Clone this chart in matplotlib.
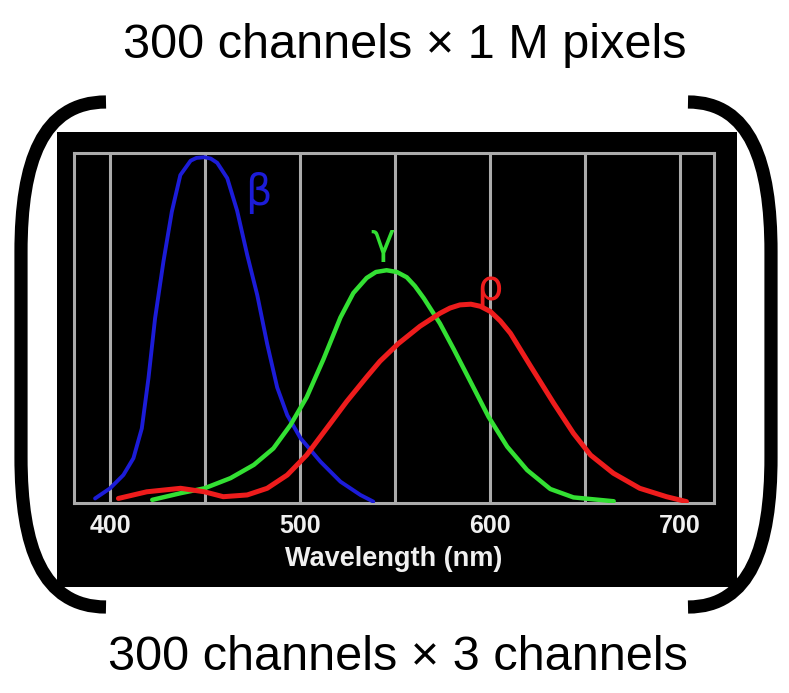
import numpy as np
import matplotlib.pyplot as plt
from matplotlib.patches import Rectangle, PathPatch
from matplotlib.path import Path

# cone sensitivity curves (wavelength nm, relative response)
blue_nm = [392.1, 400, 407, 412.3, 416.7, 420.2, 423.7, 428.1, 432.5, 437, 442.4, 445.5, 449.7,
           453, 456.4, 461.7, 466.9, 472.2, 477.5, 482.7, 488, 493.3, 500.3, 510.8, 521.3, 531.8, 538.6]
blue_val = [0.013, 0.042, 0.08, 0.128, 0.213, 0.356, 0.528, 0.69, 0.832, 0.937, 0.978, 0.986, 0.988,
            0.984, 0.972, 0.928, 0.835, 0.709, 0.594, 0.455, 0.33, 0.251, 0.185, 0.118, 0.061, 0.023, 0.004]

green_nm = [422.2, 437.1, 449.7, 463.4, 475.7, 486, 495, 503.5, 512.3, 521.3, 528.1, 535.1,
            540, 545.6, 551, 556.2, 560.5, 565.2, 573.7, 580.9, 588.5, 599.3, 609.1, 619.6, 631.8, 644, 665.2]
green_val = [0.009, 0.028, 0.042, 0.071, 0.109, 0.156, 0.223, 0.302, 0.41, 0.53, 0.6, 0.643,
             0.66, 0.665, 0.66, 0.645, 0.62, 0.585, 0.513, 0.44, 0.36, 0.246, 0.161, 0.094, 0.04, 0.016, 0.005]

red_nm = [404.4, 419.3, 437.1, 449.7, 459.6, 472.2, 482.7, 493.3, 503.5, 514, 524.6, 535.1,
          542.1, 551.7, 563.2, 573.7, 579, 584.2, 590, 595, 600.3, 605.5, 610.8, 621.3, 633.6, 644,
          653, 665, 678.9, 693, 703.5]
red_val = [0.013, 0.032, 0.042, 0.032, 0.018, 0.023, 0.042, 0.08, 0.137, 0.213, 0.29, 0.36,
           0.405, 0.455, 0.505, 0.542, 0.557, 0.566, 0.568, 0.562, 0.547, 0.52, 0.485, 0.392, 0.285,
           0.199, 0.137, 0.085, 0.042, 0.018, 0.004]

major_ticks = [400, 500, 600, 700]
minor_ticks = [450, 550, 650]
labels = ['β', 'γ', 'ρ']
label_pos = [(478, 0.885), (543.7, 0.75), (600, 0.615)]
colors = ['#1c1cd8', '#33e033', '#ee1c1c']

W, H = 789, 693
fig = plt.figure(figsize=(W / 100, H / 100), dpi=100)
fig.patch.set_facecolor('white')


def fx(x):
    return x / W


def fy(y):
    return 1 - y / H


# black panel behind the plot
fig.add_artist(Rectangle((fx(57), fy(587)), fx(737) - fx(57), fy(132) - fy(587),
                         transform=fig.transFigure, facecolor='black', edgecolor='none', zorder=0))

ax = fig.add_axes([fx(74), fy(503), fx(714) - fx(74), fy(153) - fy(503)])
ax.set_facecolor('black')
ax.set_xlim(381, 718)
ax.set_ylim(0, 1)

ax.set_xticks(major_ticks)
ax.set_xticks(minor_ticks, minor=True)
ax.set_yticks([])
ax.grid(which='both', axis='x', color='#ababab', lw=2.2)
ax.set_axisbelow(True)
for s in ax.spines.values():
    s.set_color('#ababab')
    s.set_linewidth(2.2)
ax.tick_params(axis='x', which='both', length=0, pad=8, colors='#f0f0f0')
for t in ax.get_xticklabels():
    t.set_fontfamily('Liberation Sans')
    t.set_fontweight('bold')
    t.set_fontsize(18)
ax.set_xlabel('Wavelength (nm)', family='Liberation Sans', fontweight='bold',
              fontsize=19.5, color='#f0f0f0', labelpad=6)

kw = dict(solid_capstyle='round', solid_joinstyle='round')
ax.plot(blue_nm, blue_val, color=colors[0], lw=2.8, zorder=3, **kw)
ax.plot(green_nm, green_val, color=colors[1], lw=3.2, zorder=4, **kw)
ax.plot(red_nm, red_val, color=colors[2], lw=3.6, zorder=5, **kw)

for lab, (x, y), c in zip(labels, label_pos, colors):
    ax.text(x, y, lab, color=c, fontsize=30, ha='center', va='center', zorder=6)

# brackets
def bracket(tip, vert, ytop, ybot):
    verts = [(tip, ytop), (vert + (tip - vert) * 0.25, ytop), (vert, ytop + 60), (vert, ytop + 150),
             (vert, ybot - 150),
             (vert, ybot - 60), (vert + (tip - vert) * 0.25, ybot), (tip, ybot)]
    codes = [Path.MOVETO, Path.CURVE4, Path.CURVE4, Path.CURVE4, Path.LINETO,
             Path.CURVE4, Path.CURVE4, Path.CURVE4]
    p = Path([(fx(a), fy(b)) for a, b in verts], codes)
    fig.add_artist(PathPatch(p, transform=fig.transFigure, facecolor='none',
                             edgecolor='black', lw=9.5, capstyle='butt'))


bracket(106, 21, 102, 607)
bracket(688, 771, 102, 607)

fig.text(fx(405), fy(45), '300 channels × 1 M pixels', family='Liberation Sans',
         fontsize=35, ha='center', va='center')
fig.text(fx(398), fy(658), '300 channels × 3 channels', family='Liberation Sans',
         fontsize=35, ha='center', va='center')

fig.savefig('out.png', dpi=100, facecolor='white')
